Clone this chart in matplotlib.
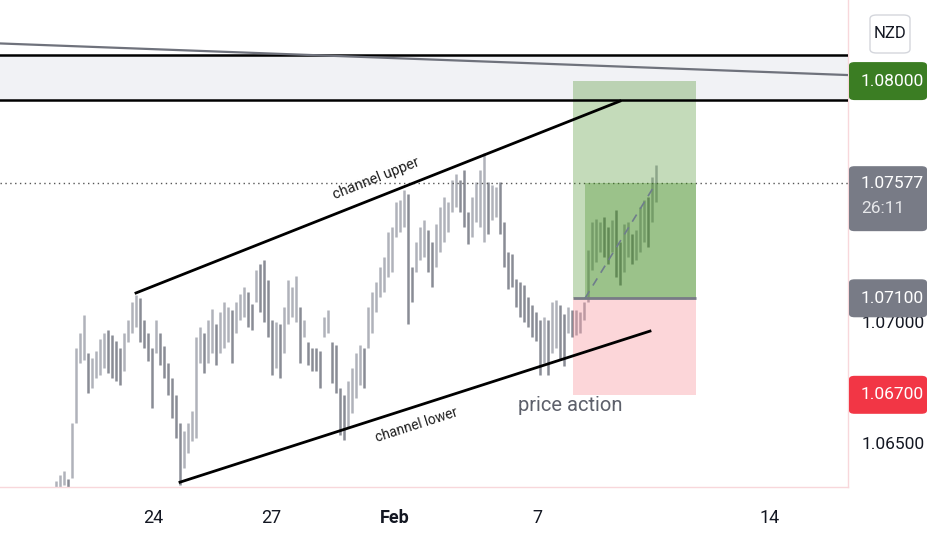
import matplotlib
matplotlib.use("Agg")
import matplotlib.pyplot as plt
import numpy as np
from matplotlib.patches import FancyBboxPatch, Rectangle

plt.rcParams['font.family'] = ['Roboto', 'DejaVu Sans']

# bar lows / highs (NZD, hourly-ish bars)
LOW = [1.06292, 1.06300, 1.06325, 1.06292, 1.06354, 1.06583, 1.06833, 1.06846, 1.06708, 1.06729,
       1.06771, 1.06783, 1.06813, 1.06792, 1.06771, 1.06758, 1.06742, 1.06800, 1.06917, 1.06958,
       1.06979, 1.06917, 1.06896, 1.06842, 1.06646, 1.06875, 1.06825, 1.06771, 1.06700, 1.06604,
       1.06521, 1.06325, 1.06396, 1.06458, 1.06508, 1.06521, 1.06833, 1.06792, 1.06833, 1.06875,
       1.06825, 1.06875, 1.06896, 1.06917, 1.06833, 1.06958, 1.07008, 1.07021, 1.06979, 1.06967,
       1.07083, 1.07042, 1.07000, 1.06938, 1.06783, 1.06813, 1.06771, 1.06875, 1.06992, 1.07021,
       1.07000, 1.06833, 1.06938, 1.06825, 1.06800, 1.06800, 1.06729, 1.06938, 1.06958, 1.06750,
       1.06708, 1.06533, 1.06513, 1.06563, 1.06625, 1.06688, 1.06742, 1.06729, 1.06896, 1.06958,
       1.07042, 1.07104, 1.07125, 1.07188, 1.07208, 1.07354, 1.07375, 1.07396, 1.06992, 1.07083,
       1.07208, 1.07258, 1.07271, 1.07208, 1.07146, 1.07229, 1.07292, 1.07333, 1.07375, 1.07458,
       1.07479, 1.07458, 1.07396, 1.07325, 1.07354, 1.07417, 1.07396, 1.07333, 1.07367, 1.07425,
       1.07438, 1.07367, 1.07229, 1.07138, 1.07146, 1.07063, 1.07021, 1.07000, 1.06979, 1.06938,
       1.06925, 1.06783, 1.06833, 1.06783, 1.06875, 1.06896, 1.06846, 1.06821, 1.06958, 1.06938,
       1.06946, 1.06958, 1.07008, 1.07083, 1.07217, 1.07250, 1.07292, 1.07271, 1.07242, 1.07292,
       1.07188, 1.07154, 1.07208, 1.07271, 1.07242, 1.07258, 1.07292, 1.07333, 1.07313, 1.07417,
       1.07500]
HIGH = [1.06342, 1.06367, 1.06383, 1.06350, 1.06583, 1.06896, 1.06958, 1.07029, 1.06875, 1.06854,
        1.06883, 1.06933, 1.06958, 1.06967, 1.06946, 1.06925, 1.06896, 1.06958, 1.07008, 1.07083,
        1.07113, 1.07100, 1.07008, 1.06958, 1.06896, 1.07008, 1.06958, 1.06904, 1.06833, 1.06771,
        1.06700, 1.06583, 1.06550, 1.06583, 1.06633, 1.06938, 1.06979, 1.06958, 1.07008, 1.07054,
        1.06992, 1.07042, 1.07083, 1.07063, 1.07050, 1.07083, 1.07117, 1.07146, 1.07125, 1.07075,
        1.07217, 1.07242, 1.07258, 1.07175, 1.07008, 1.07000, 1.06992, 1.07063, 1.07175, 1.07146,
        1.07192, 1.07063, 1.07008, 1.06917, 1.06896, 1.06892, 1.06883, 1.07021, 1.07050, 1.06917,
        1.06908, 1.06729, 1.06700, 1.06758, 1.06813, 1.06875, 1.06908, 1.06896, 1.07063, 1.07125,
        1.07167, 1.07229, 1.07271, 1.07375, 1.07396, 1.07500, 1.07508, 1.07550, 1.07533, 1.07229,
        1.07333, 1.07396, 1.07425, 1.07383, 1.07333, 1.07408, 1.07479, 1.07521, 1.07500, 1.07592,
        1.07617, 1.07592, 1.07633, 1.07458, 1.07521, 1.07583, 1.07633, 1.07700, 1.07583, 1.07571,
        1.07563, 1.07583, 1.07417, 1.07292, 1.07283, 1.07179, 1.07167, 1.07154, 1.07104, 1.07071,
        1.07042, 1.07008, 1.07021, 1.07008, 1.07083, 1.07092, 1.07071, 1.07033, 1.07063, 1.07050,
        1.07050, 1.07042, 1.07083, 1.07300, 1.07417, 1.07429, 1.07417, 1.07438, 1.07396, 1.07425,
        1.07467, 1.07333, 1.07408, 1.07417, 1.07367, 1.07383, 1.07479, 1.07508, 1.07521, 1.07604,
        1.07654]

DATE_POS = [24.25, 53.75, 84.75, 120.25, 178.5]
DATE_LABELS = ["24", "27", "Feb", "7", "14"]
PRICE_TICKS = [1.065, 1.070]   # 1.075 / 1.080 sit under the price tags

ZONE_LOW, ZONE_HIGH = 1.0792, 1.0811
TREND_X, TREND_Y = [-14, 198], [1.08156, 1.08025]
UPPER_X, UPPER_Y = [20, 141], [1.07122, 1.07917]
LOWER_X, LOWER_Y = [31, 148.5], [1.06338, 1.06964]

ENTRY, STOP, TARGET, LAST = 1.071, 1.067, 1.080, 1.07577
POS_X0, POS_X1, POS_OPEN = 129.25, 160, 132.25
LAST_BAR = len(LOW) - 1

W, H = 932, 550
fig = plt.figure(figsize=(W / 100, H / 100), dpi=100)
ax = fig.add_axes([0, 63 / H, 848 / W, 487 / H])
ax.set_xlim(-14, 198)
ax.set_ylim(1.06318, 1.08336)

# support/resistance zone + trend line
ax.axhspan(ZONE_LOW, ZONE_HIGH, color="#f1f2f5", lw=0, zorder=0)
ax.axhline(ZONE_LOW, color="black", lw=1.8, zorder=4)
ax.axhline(ZONE_HIGH, color="black", lw=1.8, zorder=4)
ax.plot(TREND_X, TREND_Y, color="#6f727c", lw=1.6, zorder=4)

# bars
x = np.arange(len(LOW))
mid = (np.array(LOW) + np.array(HIGH)) / 2
up = np.r_[True, np.diff(mid) >= 0]
ax.vlines(x, LOW, HIGH, colors=np.where(up, "#b0b2ba", "#898c95"), lw=1.8, zorder=2)

# current price line
ax.axhline(LAST, color="#555555", lw=1, ls=(0, (1, 2.5)), zorder=3)

# long position tool
green = (62 / 255, 138 / 255, 28 / 255)
ax.add_patch(Rectangle((POS_X0, ENTRY), POS_X1 - POS_X0, TARGET - ENTRY,
                       fc=green, alpha=0.3, ec="none", zorder=3))
ax.add_patch(Rectangle((POS_OPEN, ENTRY), POS_X1 - POS_OPEN, LAST - ENTRY,
                       fc=green, alpha=0.3, ec="none", zorder=3))
ax.add_patch(Rectangle((POS_X0, STOP), POS_X1 - POS_X0, ENTRY - STOP,
                       fc="#f23645", alpha=0.2, ec="none", zorder=3))
ax.hlines(ENTRY, POS_X0, POS_X1, color="#787b86", lw=2, zorder=4)
ax.plot([POS_OPEN, LAST_BAR], [ENTRY, LAST], color="#6f7d8c", lw=1.2,
        ls=(0, (5, 4)), zorder=4)

# channel
ax.plot(UPPER_X, UPPER_Y, color="black", lw=2, zorder=5)
ax.plot(LOWER_X, LOWER_Y, color="black", lw=2, zorder=5)
ax.text(80, 1.07598, "channel upper", rotation=21.6, rotation_mode="anchor",
        ha="center", va="center", fontsize=10.5, color="#1e1e1e", zorder=6)
ax.text(90.25, 1.06575, "channel lower", rotation=17.8, rotation_mode="anchor",
        ha="center", va="center", fontsize=10, color="#1e1e1e", zorder=6)
ax.text(128.5, 1.06657, "price action", ha="center", va="center",
        fontsize=14.5, color="#5d606b", zorder=6)

# axes styling
for s in ["left", "top"]:
    ax.spines[s].set_visible(False)
for s in ["right", "bottom"]:
    ax.spines[s].set_color("#f8d7db")
    ax.spines[s].set_linewidth(1)
ax.yaxis.tick_right()
ax.set_yticks(PRICE_TICKS, [f"{p:.5f}" for p in PRICE_TICKS])
ax.tick_params(axis="y", length=0, pad=10, labelsize=12.5, labelcolor="#131722")
ax.set_xticks(DATE_POS, DATE_LABELS)
ax.tick_params(axis="x", length=0, pad=16, labelsize=13, labelcolor="#131722")
ax.get_xticklabels()[2].set_fontweight("bold")

# price tags on the right scale
def tag(price, text, color, sub=None):
    yd = ax.transData.transform((0, price))[1]
    top, bot = (17, 48) if sub else (19, 19)
    fig.add_artist(FancyBboxPatch((849 / W, (yd - bot) / H), 78 / W, (top + bot) / H,
                                  boxstyle="round,pad=0,rounding_size=0.006",
                                  transform=fig.transFigure, fc=color, ec="none"))
    fig.text(861 / W, yd / H, text, color="white", fontsize=12.5, va="center", ha="left")
    if sub:
        fig.text(861 / W, (yd - 25) / H, sub, color="#e6e7ea", fontsize=12.5,
                 va="center", ha="left")

tag(TARGET, "1.08000", "#3b7d23")
tag(LAST, "1.07577", "#787b86", sub="26:11")
tag(ENTRY, "1.07100", "#787b86")
tag(STOP, "1.06700", "#f23645")

fig.add_artist(FancyBboxPatch((870 / W, (H - 53) / H), 40 / W, 38 / H,
                              boxstyle="round,pad=0,rounding_size=0.007",
                              transform=fig.transFigure, fc="white", ec="#d4d6dc", lw=1))
fig.text(890 / W, (H - 34) / H, "NZD", fontsize=12, color="#131722", ha="center", va="center")

fig.savefig("out.png", dpi=100)
